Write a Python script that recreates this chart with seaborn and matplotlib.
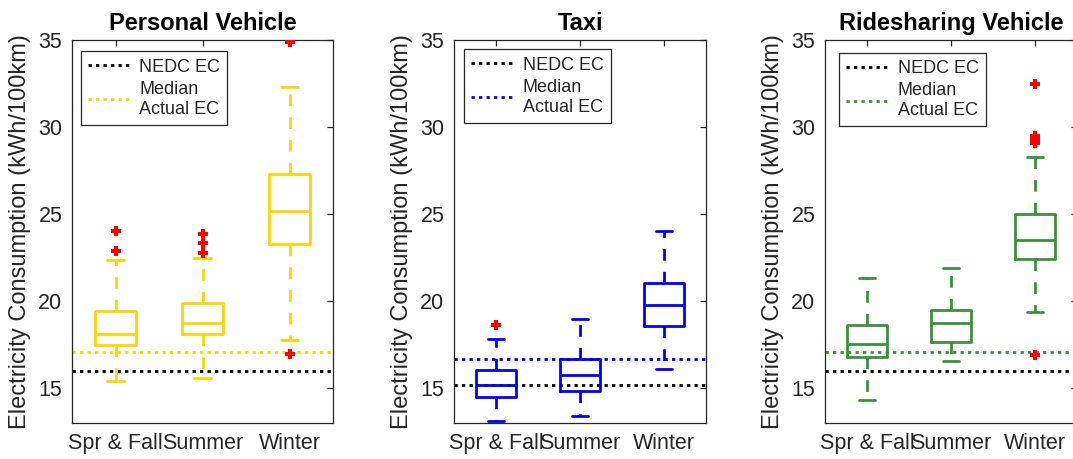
import numpy as np
import pandas as pd
import matplotlib
matplotlib.use("Agg")
import matplotlib.pyplot as plt
from matplotlib.lines import Line2D
import seaborn as sns

seasons = ["Spr & Fall", "Summer", "Winter"]
titles = ["Personal Vehicle", "Taxi", "Ridesharing Vehicle"]
colors = ["#FFD500", "#0000FF", "#3B913B"]

# Five-number summaries per season: lower whisker, Q1, median, Q3, upper whisker
personal_stats = [[15.42, 17.46, 18.13, 19.43, 22.39],
                  [15.61, 18.09, 18.72, 19.91, 22.49],
                  [17.75, 23.31, 25.16, 27.30, 32.29]]
taxi_stats = [[13.13, 14.50, 15.17, 16.05, 17.81],
              [13.38, 14.85, 15.76, 16.70, 18.99],
              [16.09, 18.57, 19.76, 21.06, 24.02]]
ride_stats = [[14.31, 16.80, 17.56, 18.63, 21.34],
              [16.57, 17.67, 18.76, 19.49, 21.91],
              [19.39, 22.43, 23.50, 25.03, 28.28]]

# Outlying trips per season
personal_outliers = [[24.04, 22.89], [23.88, 23.35, 22.74], [34.90, 16.99]]
taxi_outliers = [[18.65], [], []]
ride_outliers = [[], [], [32.48, 29.46, 29.27, 29.08, 16.89]]

# Reference lines
nedc_ec = [16.0, 15.2, 16.0]
median_actual_ec = [17.1, 16.7, 17.05]

all_stats = [personal_stats, taxi_stats, ride_stats]
all_outliers = [personal_outliers, taxi_outliers, ride_outliers]

sns.set_theme(style="white")
plt.rcParams["font.family"] = ["Liberation Sans", "DejaVu Sans"]
plt.rcParams["axes.edgecolor"] = "#262626"
plt.rcParams["axes.linewidth"] = 0.9

fig = plt.figure(figsize=(10.73, 4.59), dpi=100)
W, H = 1073.0, 459.0
# axes boxes in pixels: left, width
panel_px = [(72, 261), (454, 252), (825, 252)]
top_px, bottom_px = 40, 423
legend_offsets = [(8.7, 11.3), (10, 9.3), (14, 12.7)]

dot = (0, (1.2, 1.5))
dash = (0, (4.2, 4.0))
lw = 2.0

for i in range(3):
    left, width = panel_px[i]
    ax = fig.add_axes([left / W, (H - bottom_px) / H, width / W, (bottom_px - top_px) / H])
    col = colors[i]

    box_df = pd.DataFrame({
        "season": [s for s, vals in zip(seasons, all_stats[i]) for _ in vals],
        "value": [v for vals in all_stats[i] for v in vals],
    })
    out_df = pd.DataFrame({
        "season": [s for s, vals in zip(seasons, all_outliers[i]) for _ in vals],
        "value": [v for vals in all_outliers[i] for v in vals],
    })

    l1 = ax.axhline(nedc_ec[i], color="black", lw=lw, ls=dot, zorder=1)
    l2 = ax.axhline(median_actual_ec[i], color=col, lw=lw, ls=dot, zorder=1)

    sns.boxplot(data=box_df, x="season", y="value", order=seasons, ax=ax,
                whis=(0, 100), showfliers=False, fill=False, color=col,
                linewidth=lw, width=0.47, capwidths=0.2,
                whiskerprops={"linestyle": dash})
    sns.stripplot(data=out_df, x="season", y="value", order=seasons, ax=ax,
                  jitter=False, marker="P", color="red", size=7.5,
                  linewidth=0, zorder=5)

    ax.set_xlim(-0.5, 2.5)
    ax.set_ylim(13, 35)
    ax.set_yticks([15, 20, 25, 30, 35])
    ax.set_xlabel("")
    ax.set_ylabel("Electricity Consumption (kWh/100km)", fontsize=17,
                  color="#262626", labelpad=5)
    ax.set_title(titles[i], fontsize=17, fontweight="bold", pad=7, color="black")
    ax.tick_params(axis="both", direction="in", length=4, width=0.9,
                   top=True, right=True, colors="#262626", labelsize=15.5,
                   pad=7)
    for sp in ax.spines.values():
        sp.set_visible(True)
        sp.set_color("#262626")

    dx, dy = legend_offsets[i]
    leg = ax.legend([l1, l2], ["NEDC EC", "Median\nActual EC"],
                    loc="upper left",
                    bbox_to_anchor=(dx / width, 1 - dy / (bottom_px - top_px)),
                    borderaxespad=0, fontsize=13, handlelength=2.5,
                    handletextpad=0.35, borderpad=0.4, labelspacing=0.3,
                    fancybox=False, framealpha=1, edgecolor="#262626")
    leg.get_frame().set_linewidth(0.9)

fig.savefig("out.png", dpi=100)
